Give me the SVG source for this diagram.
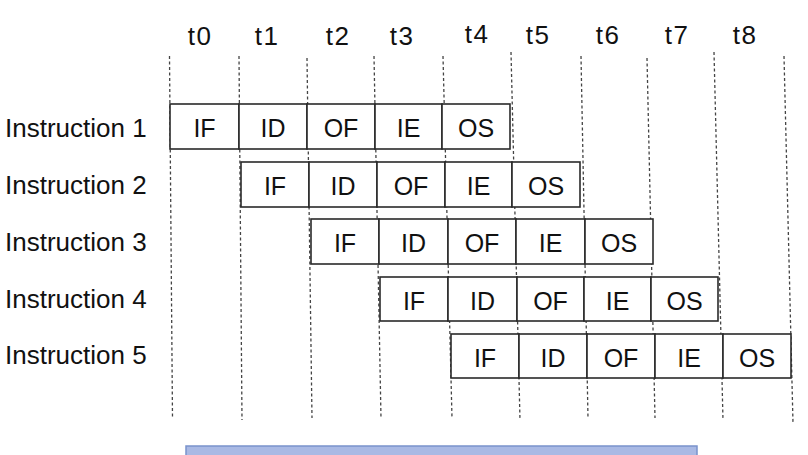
<svg xmlns="http://www.w3.org/2000/svg" width="808" height="455" viewBox="0 0 808 455">
<style>
text{font-family:"Liberation Sans",Arial,sans-serif;font-size:25px;fill:#111}
.c{text-anchor:middle}
.lbl{font-size:26px}
.t{font-size:26px;letter-spacing:1.5px}
.cell{fill:#fff;stroke:#2a2a2a;stroke-width:1.6}
.grid line{stroke:#444;stroke-width:1.3;stroke-dasharray:3 2.5}
</style>
<rect width="808" height="455" fill="#fff"/>
<g id="connectors" class="grid">
<line x1="169.5" y1="56" x2="172.5" y2="418"/>
<line x1="239" y1="56" x2="242" y2="420"/>
<line x1="307" y1="58" x2="312" y2="418"/>
<line x1="374" y1="56" x2="381" y2="418"/>
<line x1="443" y1="56" x2="452" y2="418"/>
<line x1="511" y1="52" x2="520" y2="420"/>
<line x1="581" y1="56" x2="588" y2="418"/>
<line x1="647" y1="58" x2="655" y2="418"/>
<line x1="714" y1="52" x2="723" y2="420"/>
<line x1="784" y1="56" x2="793" y2="423"/>
</g>
<g id="time-labels">
<text class="c t" x="200" y="45">t0</text>
<text class="c t" x="267" y="45">t1</text>
<text class="c t" x="338" y="45">t2</text>
<text class="c t" x="402" y="45">t3</text>
<text class="c t" x="477" y="43">t4</text>
<text class="c t" x="538" y="44">t5</text>
<text class="c t" x="608" y="44">t6</text>
<text class="c t" x="677" y="44">t7</text>
<text class="c t" x="745" y="44">t8</text>
</g>
<g id="instr1">
<text class="lbl" x="5" y="137">Instruction 1</text>
<rect class="cell" x="170" y="104" width="69" height="45"/><text class="c" x="204.5" y="137">IF</text>
<rect class="cell" x="239" y="104" width="68" height="45"/><text class="c" x="273" y="137">ID</text>
<rect class="cell" x="307" y="104" width="68" height="45"/><text class="c" x="341" y="137">OF</text>
<rect class="cell" x="375" y="104" width="67" height="45"/><text class="c" x="408.5" y="137">IE</text>
<rect class="cell" x="442" y="104" width="68" height="45"/><text class="c" x="476" y="137">OS</text>
</g>
<g id="instr2">
<text class="lbl" x="5" y="194">Instruction 2</text>
<rect class="cell" x="241" y="162" width="68" height="45"/><text class="c" x="275" y="195">IF</text>
<rect class="cell" x="309" y="162" width="68" height="45"/><text class="c" x="343" y="195">ID</text>
<rect class="cell" x="377" y="162" width="68" height="45"/><text class="c" x="411" y="195">OF</text>
<rect class="cell" x="445" y="162" width="67" height="45"/><text class="c" x="478.5" y="195">IE</text>
<rect class="cell" x="512" y="162" width="68" height="45"/><text class="c" x="546" y="195">OS</text>
</g>
<g id="instr3">
<text class="lbl" x="5" y="251">Instruction 3</text>
<rect class="cell" x="311" y="219" width="68" height="45"/><text class="c" x="345" y="252">IF</text>
<rect class="cell" x="379" y="219" width="69" height="45"/><text class="c" x="413.5" y="252">ID</text>
<rect class="cell" x="448" y="219" width="68" height="45"/><text class="c" x="482" y="252">OF</text>
<rect class="cell" x="516" y="219" width="69" height="45"/><text class="c" x="550.5" y="252">IE</text>
<rect class="cell" x="585" y="219" width="68" height="45"/><text class="c" x="619" y="252">OS</text>
</g>
<g id="instr4">
<text class="lbl" x="5" y="308">Instruction 4</text>
<rect class="cell" x="380" y="277" width="68" height="44"/><text class="c" x="414" y="310">IF</text>
<rect class="cell" x="448" y="277" width="69" height="44"/><text class="c" x="482.5" y="310">ID</text>
<rect class="cell" x="517" y="277" width="67" height="44"/><text class="c" x="550.5" y="310">OF</text>
<rect class="cell" x="584" y="277" width="67" height="44"/><text class="c" x="617.5" y="310">IE</text>
<rect class="cell" x="651" y="277" width="67" height="44"/><text class="c" x="684.5" y="310">OS</text>
</g>
<g id="instr5">
<text class="lbl" x="5" y="364">Instruction 5</text>
<rect class="cell" x="451" y="334" width="68" height="44"/><text class="c" x="485" y="367">IF</text>
<rect class="cell" x="519" y="334" width="68" height="44"/><text class="c" x="553" y="367">ID</text>
<rect class="cell" x="587" y="334" width="68" height="44"/><text class="c" x="621" y="367">OF</text>
<rect class="cell" x="655" y="334" width="68" height="44"/><text class="c" x="689" y="367">IE</text>
<rect class="cell" x="723" y="334" width="68" height="44"/><text class="c" x="757" y="367">OS</text>
</g>
<g id="bottom-bar">
<rect x="186" y="446" width="511" height="20" fill="#a9b9e4" stroke="#7a93cc" stroke-width="1.5"/>
</g>
</svg>
